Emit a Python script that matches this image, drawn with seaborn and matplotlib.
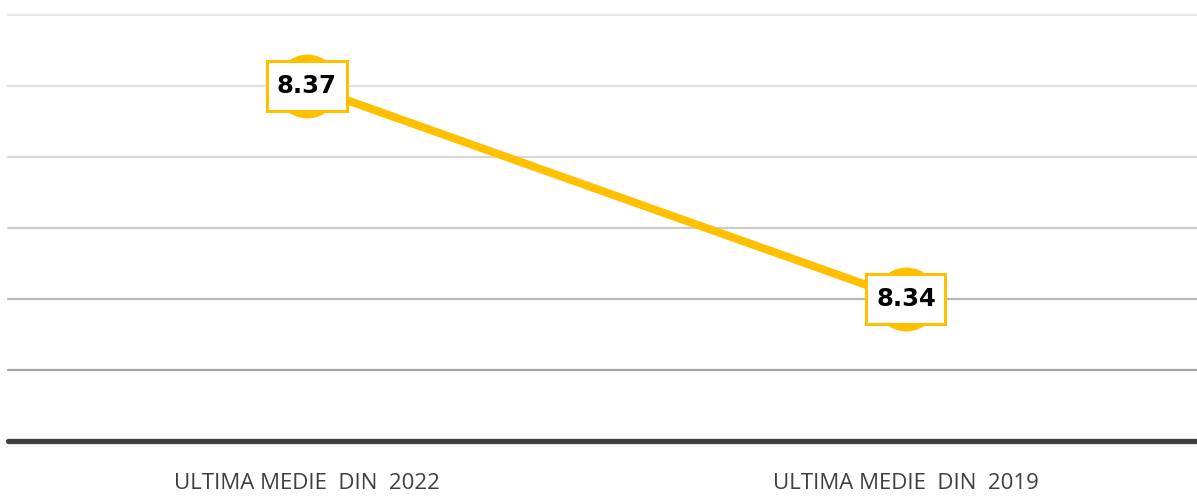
import matplotlib
matplotlib.use("Agg")
import matplotlib.pyplot as plt
from matplotlib.path import Path
import seaborn as sns
import pandas as pd

categories = ["ULTIMA MEDIE  DIN  2022", "ULTIMA MEDIE  DIN  2019"]
values = [8.37, 8.34]
labels = ["8.37", "8.34"]
grid_levels = [8.33, 8.34, 8.35, 8.36, 8.37, 8.38]
grid_colors = ["#a3a3a3", "#b8b8b8", "#cbcbcb", "#d8d8d8", "#e2e2e2", "#e8e8e8"]

sns.set_theme(style="white")
plt.rcParams['font.family'] = ['Open Sans', 'DejaVu Sans']

W, H = 1197, 497
fig = plt.figure(figsize=(W / 100, H / 100), dpi=100)
ax = fig.add_axes([8 / W, 1 - 441 / H, 1 - 8 / W, (441 - 15) / H])

df = pd.DataFrame({"cat": categories, "val": values})
sns.lineplot(data=df, x="cat", y="val", ax=ax, color="#FFC000", linewidth=5.8,
             marker="o", markersize=46, markeredgewidth=0, zorder=3)

for lvl, c in zip(grid_levels, grid_colors):
    ax.axhline(lvl, color=c, lw=1.6, zorder=1, clip_on=False)
ax.axhline(8.32, color="#404040", lw=3.8, zorder=2, clip_on=False)


def label_box(x0, y0, width, height, mutation_size):
    px = 0.40 * mutation_size
    py = 0.55 * mutation_size
    x0, y0 = x0 - px, y0 - py
    x1, y1 = x0 + width + 2 * px, y0 + height + 2 * py
    return Path([(x0, y0), (x1, y0), (x1, y1), (x0, y1), (x0, y0)], closed=True)


for i, (v, t) in enumerate(zip(values, labels)):
    ax.text(i, v, t, ha="center", va="center", fontsize=17.5, fontweight="bold",
            family="DejaVu Sans", color="#000000", zorder=5,
            bbox=dict(boxstyle=label_box, fc="white", ec="#FFC000", lw=2.2))

ax.set_ylim(8.32, 8.38)
ax.set_xlim(-0.499, 1.486)
ax.set_yticks([])
ax.set_xlabel("")
ax.set_ylabel("")
for s in ax.spines.values():
    s.set_visible(False)
ax.tick_params(axis="x", length=0, pad=23, labelsize=16, labelcolor="#404040")

fig.savefig("out.png", dpi=100)
